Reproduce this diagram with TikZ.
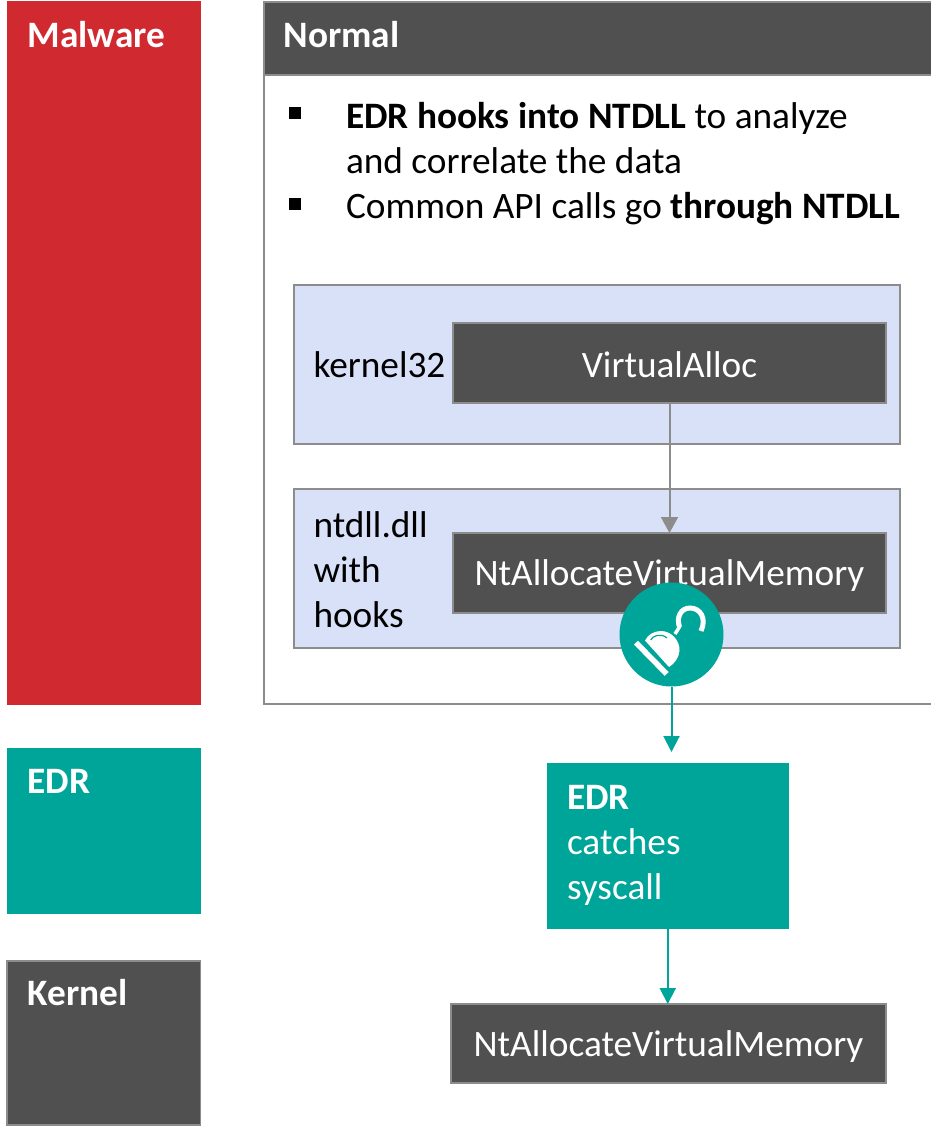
\documentclass[tikz,border=0pt]{standalone}
\usepackage{fontspec}
\setmainfont{Carlito}
\usetikzlibrary{arrows.meta,calc}
\definecolor{redbox}{HTML}{D02A30}
\definecolor{teal}{HTML}{00A59A}
\definecolor{dark}{HTML}{505050}
\definecolor{edge}{HTML}{8C8C8C}
\definecolor{blue}{HTML}{D9E1F8}
\tikzset{
  x=1pt,y=-1pt,
  box/.style={draw=edge,line width=1.6pt,inner sep=0pt,outer sep=0pt},
  tealbox/.style={fill=teal,draw=teal,line width=1pt,inner sep=0pt,outer sep=0pt},
  txt/.style={font=\fontsize{37.3}{45}\selectfont,anchor=base west,inner sep=0pt,outer sep=0pt,align=left},
  txtc/.style={font=\fontsize{37.3}{45}\selectfont,anchor=base,inner sep=0pt,outer sep=0pt,text=white},
  label/.style={font=\fontsize{37.3}{45}\selectfont\bfseries,anchor=base west,inner sep=0pt,outer sep=0pt,text=white},
  bul/.style={fill=black,inner sep=0pt,minimum size=11.5pt},
  grayarrow/.style={draw=edge,line width=2pt,-{Triangle[length=16pt,width=17pt,fill=edge]}},
  tealarrow/.style={draw=teal,line width=2pt,-{Triangle[length=16pt,width=16pt,fill=teal]}},
}
\newcommand{\bx}[6]{\node[#2,minimum width=#5pt-#3pt,minimum height=#6pt-#4pt] (#1) at ({(#3+#5)/2},{(#4+#6)/2}) {};}
\begin{document}
\begin{tikzpicture}
\useasboundingbox (0,0) rectangle (930,1126);
% left bands
\bx{malware}{fill=redbox,draw=redbox,line width=1pt,inner sep=0pt,outer sep=0pt}{7}{2}{200.5}{704.5}
\bx{edrband}{tealbox}{7}{748.5}{200.5}{913.5}
\bx{kernelband}{box,fill=dark}{7}{961}{200.5}{1125}
\node[label] (malwaretxt) at (27.5,47.8) {Malware};
\node[label] (edrtxt) at (27.5,793.8) {EDR};
\node[label] (kerneltxt) at (27.8,1005.8) {Kernel};
% normal panel
\bx{panel}{box,fill=white}{264}{2}{932}{704}
\bx{header}{box,fill=dark}{264}{2}{932}{75}
\node[label] (normaltxt) at (283.5,47.8) {Normal};
\node[bul] (b1) at (295,113) {};
\node[bul] (b2) at (295,204) {};
\node[txt] (t1) at (346,173.3) {\textbf{EDR hooks into NTDLL} to analyze\\and correlate the data};
\node[txt] (t2) at (346,218) {Common API calls go \textbf{through NTDLL}};
% blue panels
\bx{k32}{box,fill=blue}{294}{285}{900}{444}
\bx{ntd}{box,fill=blue}{294}{489}{900}{648}
\node[txt] (k32txt) at (313.5,377) {kernel32};
\node[txt] (ntdtxt) at (313.5,627) {ntdll.dll\\with\\hooks};
\bx{va}{box,fill=dark}{453}{323}{886}{403}
\node[txtc] (vatxt) at (669.5,377) {VirtualAlloc};
\bx{nt}{box,fill=dark}{453}{533}{886}{613}
\node[txtc] (nttxt) at (669.5,585.5) {NtAllocateVirtualMemory};
\draw[grayarrow] (va.south) -- (nt.north);
% hook badge
\node[circle,fill=teal,inner sep=0pt,outer sep=0pt,minimum size=104pt] (badge) at (671.5,634.5) {};
\fill[white] (645,640.5) .. controls (648,634) and (655,631) .. (661,631) .. controls (671,631) and (680,640) .. (679.5,651) .. controls (679,658) and (674,664) .. (669,667) -- cycle;
\draw[teal,line width=1.2pt] (650.7,640) .. controls (652,636) and (661,632.5) .. (667,638);
\draw[white,line width=5.5pt] (636,642.7) -- (666.7,674);
\draw[white,line width=3.5pt] (675,634) -- (680,626);
\draw[white,line width=5pt] (679.5,627) .. controls (676,617) and (681,608) .. (690,608) .. controls (700,608) and (707,618) .. (701,631);
% EDR + kernel
\bx{edr}{tealbox}{547}{763}{788.5}{928}
\node[txt,text=white] (edrt) at (567,899) {\textbf{EDR}\\catches\\syscall};
\bx{kern}{box,fill=dark}{451}{1004}{886}{1083}
\node[txtc] (kerntxt) at (668.5,1056.5) {NtAllocateVirtualMemory};
\draw[tealarrow,shorten >=11pt] (badge.south) -- (badge.south |- edr.north);
\draw[tealarrow] (edr.south) -- (edr.south |- kern.north);
\end{tikzpicture}
\end{document}
